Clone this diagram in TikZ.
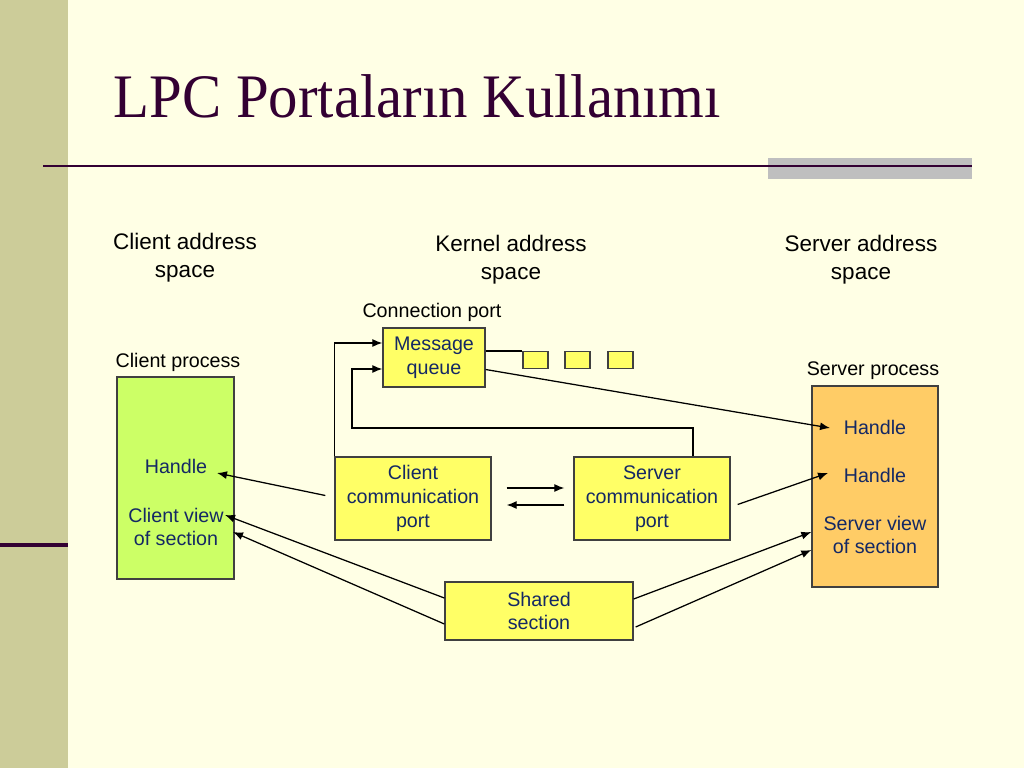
\documentclass[tikz,border=0pt]{standalone}
\usepackage{fontspec}
\setmainfont{Liberation Serif}
\setsansfont{Liberation Sans}
\usetikzlibrary{arrows.meta,calc}

\definecolor{hinter}{RGB}{255,255,229}
\definecolor{streifen}{RGB}{204,204,153}
\definecolor{titel}{RGB}{51,0,51}
\definecolor{gelb}{RGB}{255,255,102}
\definecolor{gruen}{RGB}{204,255,102}
\definecolor{orangebox}{RGB}{255,204,102}
\definecolor{schrift}{RGB}{20,40,100}

\begin{document}
\begin{tikzpicture}[x=0.025cm,y=-0.025cm,
    kasten/.style={draw=black!75,fill=gelb,align=center,inner sep=0pt,text=schrift,
      font=\sffamily\fontsize{14}{17}\selectfont},
    innen/.style={align=center,inner sep=0pt,text=schrift,font=\sffamily\fontsize{14}{17}\selectfont},
    bereich/.style={align=center,font=\sffamily\fontsize{16}{20}\selectfont},
    klein/.style={font=\sffamily\fontsize{14}{17}\selectfont},
    pfeil/.style={-{Latex[length=2.5mm,width=2mm]}},
    line width=0.9pt]
  % Hintergrund und Titel
  \fill[hinter] (0,0) rectangle (1024,768);
  \useasboundingbox (0,0) rectangle (1024,768);
  \fill[streifen] (0,0) rectangle (68,768);
  \draw[titel,line width=3pt] (0,545) -- (68,545);
  \fill[black!25] (768,158) rectangle (972,179);
  \draw[titel,line width=1.4pt] (43,166) -- (972,166);
  \node[anchor=base west,inner sep=0pt,text=titel,xscale=0.95,font=\fontsize{44}{50}\selectfont] (titel) at (113,118) {LPC Portaların Kullanımı};

  % Adressraeume
  \node[bereich] (caddr) at (185,258) {Client address\\space};
  \node[bereich] (kaddr) at (511,260) {Kernel address\\space};
  \node[bereich] (saddr) at (861,260) {Server address\\space};
  \node[klein] (cport) at (432,312) {Connection port};
  \node[klein] (cproz) at (178,362) {Client process};
  \node[klein] (sproz) at (873,371) {Server process};

  % Kaesten
  \node[kasten,minimum width=2.55cm,minimum height=1.475cm] (mq) at (434,357.5) {Message\\queue};
  \foreach \i/\x in {1/535.5,2/577.5,3/620.5}
    \node[kasten,minimum width=0.625cm,minimum height=0.425cm] (q\i) at (\x,360) {};
  \node[kasten,minimum width=3.9cm,minimum height=2.075cm] (ccp) at (413,498.5) {Client\\communication\\port};
  \node[kasten,minimum width=3.9cm,minimum height=2.075cm] (scp) at (652,498.5) {Server\\communication\\port};
  \node[kasten,minimum width=4.7cm,minimum height=1.45cm] (shared) at (539,611) {Shared\\section};
  \node[kasten,fill=gruen,minimum width=2.925cm,minimum height=5.05cm] (cp) at (175.5,478) {};
  \node[kasten,fill=orangebox,minimum width=3.15cm,minimum height=5.025cm] (sp) at (875,486.5) {};

  % Texte in den Prozessen
  \node[innen] (chandle) at (176,466) {Handle};
  \node[innen] (cview) at (176,527) {Client view\\of section};
  \node[innen] (shandlea) at (875,427) {Handle};
  \node[innen] (shandleb) at (875,475) {Handle};
  \node[innen] (sview) at (875,535) {Server view\\of section};
  \coordinate (chtip) at (217,473);
  \coordinate (cvtipa) at (225,515);
  \coordinate (cvtipb) at (233,532);
  \coordinate (shtipa) at (830,428);
  \coordinate (shtipb) at (828,473);

  % Verbindungen
  \draw (mq.east |- q1.north) -- (q1.north west);
  \draw[pfeil] ($(mq.east)+(0,12)$) -- (shtipa);
  \draw[pfeil] (ccp.north west) |- ($(mq.west)+(0,-14.5)$);
  \draw[pfeil] ($(scp.north)+(41,0)$) |- (352,428) |- ($(mq.west)+(0,11.5)$);
  \draw[pfeil] ($(ccp.east)+(15,-10.5)$) -- ($(scp.west)+(-9,-10.5)$);
  \draw[pfeil] ($(scp.west)+(-9,6.5)$) -- ($(ccp.east)+(15,6.5)$);
  \draw[pfeil] ($(ccp.west)+(-9,-3)$) -- (chtip);
  \draw[pfeil] ($(scp.east)+(7,6)$) -- (shtipb);
  \draw[pfeil] ($(shared.west)+(0,-13)$) -- (cvtipa);
  \draw[pfeil] ($(shared.west)+(0,13)$) -- (cvtipb);
  \draw[pfeil] ($(shared.east)+(0,-12)$) -- ($(sp.west)+(0,45.5)$);
  \draw[pfeil] ($(shared.east)+(2,16)$) -- ($(sp.west)+(0,63.5)$);
\end{tikzpicture}
\end{document}
